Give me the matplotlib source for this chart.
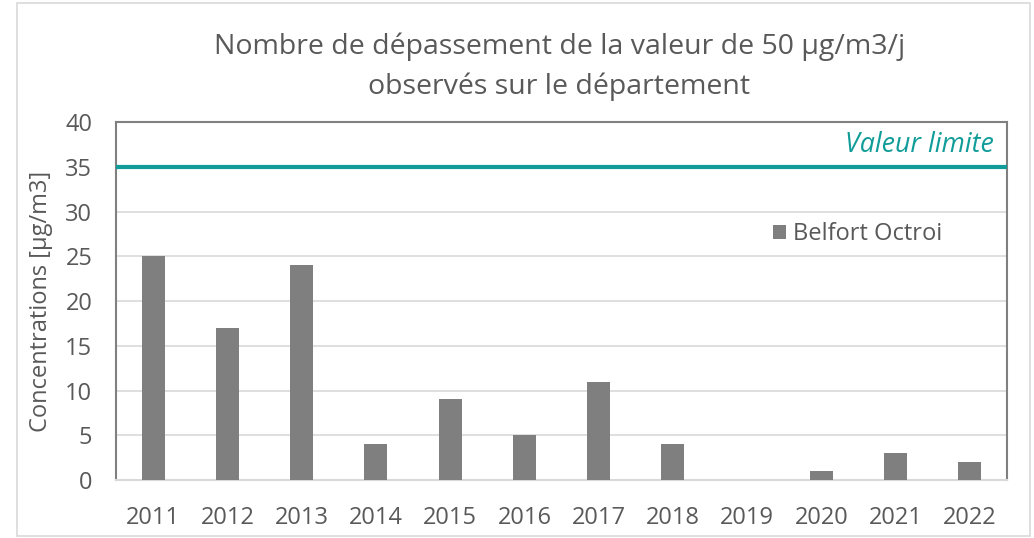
import numpy as np
import matplotlib
matplotlib.use("Agg")
import matplotlib.pyplot as plt
from matplotlib.patches import Rectangle

years = ["2011", "2012", "2013", "2014", "2015", "2016",
         "2017", "2018", "2019", "2020", "2021", "2022"]
depassements = [25, 17, 24, 4, 9, 5, 11, 4, 0, 1, 3, 2]
valeur_limite = 35

plt.rcParams["font.family"] = ["Open Sans", "DejaVu Sans"]
txt = "#595959"
teal = "#109c98"

fig = plt.figure(figsize=(10.34, 5.38), dpi=100)
ax = fig.add_axes([0.1122, 0.1078, 0.8617, 0.6654])

x = np.arange(len(years))
ax.bar(x, depassements, width=0.31, color="#7f7f7f", label="Belfort Octroi", zorder=3)
ax.axhline(valeur_limite, color=teal, lw=3, zorder=4)
ax.text(0.985, 35.9, "Valeur limite", color=teal, style="italic", fontsize=19.3,
        ha="right", va="bottom", transform=ax.get_yaxis_transform())

ax.set_xlim(-0.5, len(years) - 0.5)
ax.set_ylim(0, 40)
ax.set_yticks(range(0, 41, 5))
ax.set_xticks(x)
ax.set_xticklabels(years)
ax.yaxis.grid(True, color="#d9d9d9", lw=1.2, zorder=0)
ax.tick_params(length=0, labelsize=17, colors=txt)
ax.tick_params(axis="x", pad=19)
ax.tick_params(axis="y", pad=17)
for s in ["left", "top", "right"]:
    ax.spines[s].set_color("#808080")
    ax.spines[s].set_linewidth(1.5)
ax.spines["bottom"].set_color("#d9d9d9")
ax.spines["bottom"].set_linewidth(1.5)

ax.set_ylabel("Concentrations [µg/m3]", fontsize=17, color=txt, labelpad=9)

fig.suptitle("Nombre de dépassement de la valeur de 50 µg/m3/j\nobservés sur le département",
             x=0.541, y=0.94, fontsize=20.5, color=txt, linespacing=1.55)

leg = ax.legend(loc="upper left", bbox_to_anchor=(0.713, 0.78), frameon=False,
                fontsize=17, handlelength=0.55, handleheight=0.55, handletextpad=0.3)
for t in leg.get_texts():
    t.set_color(txt)

fig.patches.append(Rectangle((0.016, 0.004), 0.98, 0.99, transform=fig.transFigure,
                             fill=False, edgecolor="#d9d9d9", lw=1.2))

fig.savefig("out.png", dpi=100)
